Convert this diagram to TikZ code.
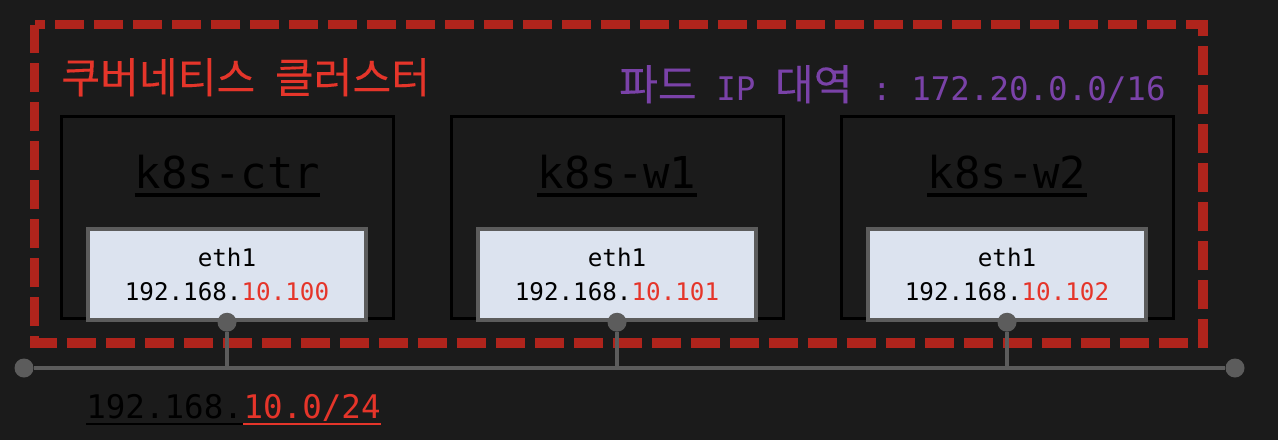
\documentclass[tikz,border=0pt]{standalone}
\usepackage{fontspec}
\setmonofont{DejaVu Sans Mono}
\newfontfamily\kofont[FakeBold=0.15]{Noto Sans CJK KR}
\newcommand{\kortext}[1]{{\kofont\fontsize{24}{28}\selectfont #1}}
\definecolor{bgcol}{HTML}{1B1B1B}
\definecolor{clusterred}{HTML}{B0241C}
\definecolor{labelred}{HTML}{E5352A}
\definecolor{podpurple}{HTML}{7A42A8}
\definecolor{wiregray}{HTML}{5C5C5C}
\definecolor{ethfill}{HTML}{DCE3EF}

\begin{document}
\begin{tikzpicture}[x=0.02cm, y=-0.02cm]
	\tikzset{
		cluster/.style = {draw=clusterred, line width=0.19cm, dash pattern=on 0.58cm off 0.2cm},
		host/.style = {rectangle, draw=black, line width=0.06cm, minimum width=6.64cm, minimum height=4.05cm, inner sep=0},
		hostname/.style = {font=\ttfamily\fontsize{25}{30}\selectfont, text=black, inner sep=0, anchor=base},
		nic/.style = {rectangle, draw=wiregray, line width=0.09cm, fill=ethfill, minimum width=5.56cm, minimum height=1.82cm, align=center, text=black, font=\ttfamily\fontsize{13.8}{19.5}\selectfont},
		port/.style = {circle, fill=wiregray, minimum size=0.38cm, inner sep=0},
		wire/.style = {draw=wiregray, line width=0.07cm},
		biglabel/.style = {font=\ttfamily\fontsize{18.5}{22}\selectfont, inner sep=0}
	}
	\useasboundingbox (0,0) rectangle (1278,440);
	\fill[bgcol] (0,0) rectangle (1278,440);

	% cluster frame and labels
	\draw[cluster] (34.5,24.5) rectangle (1203,343);
	\node[biglabel, anchor=base west, text=labelred] (clustertitle) at (61,93) {\kortext{쿠버네티스}~\kortext{클러스터}};
	\node[biglabel, anchor=base east, text=podpurple] (podcidr) at (1166,100) {\kortext{파드} IP \kortext{대역} : 172.20.0.0/16};

	% hosts
	\node[host] (ctr) at (227.5,217.75) {};
	\node[host] (w1) at (617.75,217.75) {};
	\node[host] (w2) at (1007.75,217.75) {};
	\node[hostname] (ctrname) at (227.5,188) {k8s-ctr};
	\node[hostname] (w1name) at (617,188) {k8s-w1};
	\node[hostname] (w2name) at (1007,188) {k8s-w2};
	\draw[black, line width=0.08cm]
	([yshift=-0.14cm]ctrname.base west) -- ([yshift=-0.14cm]ctrname.base east)
	([yshift=-0.14cm]w1name.base west) -- ([yshift=-0.14cm]w1name.base east)
	([yshift=-0.14cm]w2name.base west) -- ([yshift=-0.14cm]w2name.base east);

	% interfaces
	\node[nic] (ctreth) at (227,274.5) {eth1\\192.168.\textcolor{labelred}{10.100}};
	\node[nic] (w1eth) at (617,274.5) {eth1\\192.168.\textcolor{labelred}{10.101}};
	\node[nic] (w2eth) at (1007,274.5) {eth1\\192.168.\textcolor{labelred}{10.102}};
	\node[port] (ctrport) at (ctreth.south) {};
	\node[port] (w1port) at (w1eth.south) {};
	\node[port] (w2port) at (w2eth.south) {};

	% network bus
	\node[port] (busL) at (24,368) {};
	\node[port] (busR) at (1235,368) {};
	\draw[wire]
	(busL) -- (busR)
	(ctrport) -- (ctrport |- busL)
	(w1port) -- (w1port |- busL)
	(w2port) -- (w2port |- busL);

	\node[biglabel, anchor=base west, text=black] (netpre) at (86,418) {192.168.};
	\node[biglabel, anchor=base west, text=labelred] (netsuf) at (netpre.base east) {10.0/24};
	\draw[black, line width=0.05cm] ([yshift=-0.12cm]netpre.base west) -- ([yshift=-0.12cm]netpre.base east);
	\draw[labelred, line width=0.05cm] ([yshift=-0.12cm]netsuf.base west) -- ([yshift=-0.12cm]netsuf.base east);
\end{tikzpicture}
\end{document}
